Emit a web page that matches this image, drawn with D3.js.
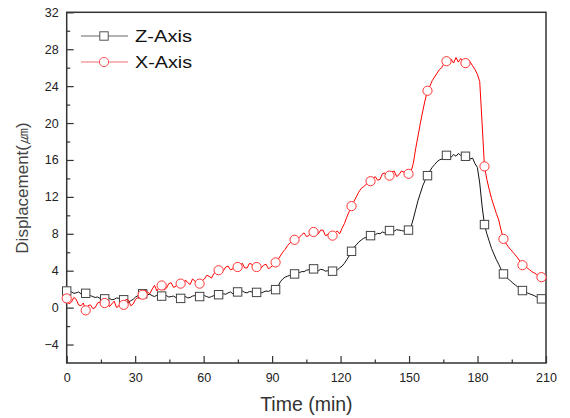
<!DOCTYPE html>
<html lang="en">
<head>
    <meta charset="UTF-8">
    <script src="https://cdn.jsdelivr.net/npm/d3@7"></script>
    <title>Displacement</title>
    <style>
        * {
            margin: 0;
            padding: 0;
            box-sizing: border-box;
        }

        body {
            background: white;
        }

        svg {
            display: block;
            font-family: Arial, "Liberation Sans", sans-serif;
        }
    </style>
</head>
<body>
    <svg width="570" height="418"></svg>
    <script>
        // sample times (min)
        let times = [0, 1.04, 2.08, 3.12, 4.16, 5.2, 6.24, 7.28, 8.32, 9.36, 10.4, 11.44, 12.48, 13.52, 14.56, 15.6,
            16.64, 17.68, 18.72, 19.76, 20.8, 21.84, 22.88, 23.92, 24.96, 26, 27.04, 28.08, 29.12, 30.16, 31.2, 32.24,
            33.28, 34.32, 35.36, 36.4, 37.44, 38.48, 39.52, 40.56, 41.6, 42.64, 43.68, 44.72, 45.76, 46.8, 47.84, 48.88,
            49.92, 50.96, 52, 53.04, 54.08, 55.12, 56.16, 57.2, 58.24, 59.28, 60.32, 61.36, 62.4, 63.44, 64.48, 65.52,
            66.56, 67.6, 68.64, 69.68, 70.72, 71.76, 72.8, 73.84, 74.88, 75.92, 76.96, 78, 79.04, 80.08, 81.12, 82.16,
            83.2, 84.24, 85.28, 86.32, 87.36, 88.4, 89.44, 90.48, 91.52, 92.56, 93.6, 94.64, 95.68, 96.72, 97.76, 98.8,
            99.84, 100.88, 101.92, 102.96, 104, 105.04, 106.08, 107.12, 108.16, 109.2, 110.24, 111.28, 112.32, 113.36, 114.4, 115.44,
            116.48, 117.52, 118.56, 119.6, 120.64, 121.68, 122.72, 123.76, 124.8, 125.84, 126.88, 127.92, 128.96, 130, 131.04, 132.08,
            133.12, 134.16, 135.2, 136.24, 137.28, 138.32, 139.36, 140.4, 141.44, 142.48, 143.52, 144.56, 145.6, 146.64, 147.68, 148.72,
            149.76, 150.8, 151.84, 152.88, 153.92, 154.96, 156, 157.04, 158.08, 159.12, 160.16, 161.2, 162.24, 163.28, 164.32, 165.36,
            166.4, 167.44, 168.48, 169.52, 170.56, 171.6, 172.64, 173.68, 174.72, 175.76, 176.8, 177.84, 178.88, 179.92, 180.96, 182,
            183.04, 184.08, 185.12, 186.16, 187.2, 188.24, 189.28, 190.32, 191.36, 192.4, 193.44, 194.48, 195.52, 196.56, 197.6, 198.64,
            199.68, 200.72, 201.76, 202.8, 203.84, 204.88, 205.92, 206.96, 208]

        let zValues = [1.8, 1.9, 1.7, 1.55, 1.6, 1.7, 1.5, 1.6, 1.55, 1.4, 1.3, 1.2, 1.1, 1.15, 1.0, 0.9,
            0.95, 1.1, 1.0, 0.85, 0.9, 1.05, 1.0, 0.9, 0.85, 0.7, 0.6, 0.75, 0.9, 1.15, 1.3, 1.45,
            1.5, 1.35, 1.4, 1.45, 1.3, 1.2, 1.35, 1.3, 1.25, 1.35, 1.3, 1.15, 1.2, 1.25, 1.1, 1.05,
            1.0, 1.15, 1.2, 1.05, 1.1, 1.25, 1.3, 1.15, 1.2, 1.35, 1.3, 1.2, 1.1, 1.2, 1.3, 1.35,
            1.4, 1.55, 1.5, 1.45, 1.6, 1.7, 1.5, 1.6, 1.7, 1.85, 1.8, 1.65, 1.6, 1.75, 1.7, 1.6,
            1.65, 1.75, 1.6, 1.7, 1.8, 1.75, 1.9, 1.85, 1.95, 2.3, 2.8, 3.1, 3.3, 3.4, 3.5, 3.6,
            3.65, 3.7, 3.8, 3.9, 3.9, 4.05, 4.1, 4.15, 4.2, 4.1, 4.0, 4.15, 4.1, 3.95, 4.0, 4.1,
            3.95, 3.9, 4.1, 4.3, 4.5, 4.8, 5.2, 5.6, 6.1, 6.5, 6.8, 7.1, 7.3, 7.5, 7.6, 7.75,
            7.8, 7.95, 7.9, 8.05, 8.0, 8.2, 8.1, 8.25, 8.35, 8.2, 8.3, 8.45, 8.4, 8.35, 8.3, 8.45,
            8.4, 8.7, 9.6, 10.6, 11.6, 12.4, 13.2, 13.8, 14.3, 14.8, 15.2, 15.5, 15.8, 16.0, 16.1, 16.3,
            16.5, 16.4, 16.3, 16.6, 16.4, 16.7, 16.5, 16.6, 16.4, 16.5, 16.1, 16.2, 15.6, 15.2, 13.5, 11.0,
            9.0, 8.0, 7.2, 6.4, 5.8, 5.2, 4.7, 4.15, 3.65, 3.35, 3.1, 2.9, 2.65, 2.45, 2.25, 2.05,
            1.85, 1.75, 1.6, 1.5, 1.4, 1.3, 1.15, 1.05, 0.95]

        let xValues = [1.0, 0.4, 0.6, 1.1, 0.9, 0.3, 0.2, 0.5, -0.3, 0.2, 0.3, -0.1, 0.0, 0.5, 0.6, 0.1,
            0.5, 0.9, 0.1, 0.4, 0.7, 0.0, 0.2, 0.6, 0.3, 0.9, 0.8, 0.2, 0.4, 0.9, 1.1, 1.0,
            1.4, 1.9, 1.7, 1.5, 2.0, 2.4, 1.8, 2.2, 2.4, 1.9, 2.1, 2.6, 2.7, 2.2, 2.3, 2.8,
            2.6, 2.3, 3.0, 2.7, 2.5, 3.1, 2.9, 2.4, 2.6, 2.9, 3.1, 3.5, 3.4, 3.2, 3.7, 3.9,
            4.05, 3.8, 4.0, 4.4, 4.5, 4.1, 4.2, 4.7, 4.4, 4.6, 4.8, 4.3, 4.3, 4.8, 4.7, 4.2,
            4.4, 4.7, 4.3, 4.6, 4.7, 4.2, 4.4, 4.6, 4.9, 5.2, 5.6, 6.0, 6.3, 6.7, 7.0, 7.2,
            7.35, 7.5, 7.6, 7.9, 8.1, 7.7, 7.8, 8.3, 8.2, 7.9, 8.0, 8.4, 8.4, 7.8, 7.9, 8.2,
            7.8, 8.1, 8.3, 8.0, 8.6, 9.1, 9.8, 10.4, 11.0, 11.5, 12.0, 12.5, 12.9, 13.1, 13.3, 13.6,
            13.7, 14.0, 14.2, 13.8, 13.9, 14.5, 14.6, 14.1, 14.3, 14.7, 14.8, 14.2, 14.4, 14.8, 14.7, 14.3,
            14.5, 14.7, 15.6, 17.2, 18.6, 20.0, 21.3, 22.5, 23.5, 24.0, 24.6, 25.0, 25.4, 25.8, 26.0, 26.5,
            26.7, 26.3, 26.9, 26.5, 27.1, 26.6, 27.0, 26.7, 26.5, 26.9, 26.6, 26.2, 25.8, 25.3, 24.5, 20.0,
            15.3, 13.9, 12.8, 11.8, 11.0, 10.2, 9.5, 8.4, 7.45, 7.0, 6.6, 6.3, 6.0, 5.7, 5.4, 5.0,
            4.6, 4.5, 4.3, 4.1, 3.9, 3.75, 3.6, 3.45, 3.3]

        let seriesNames = ['Z-Axis', 'X-Axis']
        let xTicks = [0, 30, 60, 90, 120, 150, 180, 210]
        let xMinor = [15, 45, 75, 105, 135, 165, 195]
        let yTicks = [-4, 0, 4, 8, 12, 16, 20, 24, 28, 32]
        let yMinor = [-2, 2, 6, 10, 14, 18, 22, 26, 30]
        let markerEvery = 8

        let svg = d3.select('svg')

        let plotLeft = 66.7, plotRight = 546, plotTop = 12.3, plotBottom = 363

        let xScale = d3.scaleLinear()
            .domain([0, 210])
            .range([plotLeft, plotRight])

        let yScale = d3.scaleLinear()
            .domain([-6, 32])
            .range([plotBottom, plotTop])

        // minor ticks (inside)
        svg.append('g')
            .attr('transform', `translate(0, ${plotBottom})`)
            .call(d3.axisBottom(xScale).tickValues(xMinor).tickSize(-3.5).tickFormat(''))
            .call(g => g.select('.domain').remove())

        svg.append('g')
            .attr('transform', `translate(${plotLeft}, 0)`)
            .call(d3.axisLeft(yScale).tickValues(yMinor).tickSize(-3.5).tickFormat(''))
            .call(g => g.select('.domain').remove())

        // major ticks
        let xAxis = svg.append('g')
            .attr('transform', `translate(0, ${plotBottom})`)
            .call(d3.axisBottom(xScale).tickValues(xTicks).tickSize(-7).tickPadding(10))
        xAxis.select('.domain').remove()

        let yAxis = svg.append('g')
            .attr('transform', `translate(${plotLeft}, 0)`)
            .call(d3.axisLeft(yScale).tickValues(yTicks).tickSize(-7).tickPadding(8))
        yAxis.select('.domain').remove()

        svg.selectAll('.tick line').attr('stroke', '#333').attr('stroke-width', 1.2)
        svg.selectAll('.tick text')
            .attr('font-family', 'Arial, "Liberation Sans", sans-serif')
            .attr('font-size', 12.5)
            .attr('fill', '#222')

        // frame
        svg.append('rect')
            .attr('x', plotLeft)
            .attr('y', plotTop)
            .attr('width', plotRight - plotLeft)
            .attr('height', plotBottom - plotTop)
            .attr('fill', 'none')
            .attr('stroke', '#333')
            .attr('stroke-width', 1.5)

        let line = d3.line()
            .x((d, i) => xScale(times[i]))
            .y(d => yScale(d))

        // Z-Axis (black, squares)
        svg.append('path')
            .attr('d', line(zValues))
            .attr('fill', 'none')
            .attr('stroke', '#111')
            .attr('stroke-width', 1)

        svg.selectAll('rect.zmark')
            .data(zValues.filter((d, i) => i % markerEvery == 0))
            .join('rect')
            .attr('class', 'zmark')
            .attr('x', (d, i) => xScale(times[i * markerEvery]) - 4.2)
            .attr('y', d => yScale(d) - 4.2)
            .attr('width', 8.4)
            .attr('height', 8.4)
            .attr('fill', 'white')
            .attr('stroke', '#444')
            .attr('stroke-width', 1)

        // X-Axis (red, circles)
        svg.append('path')
            .attr('d', line(xValues))
            .attr('fill', 'none')
            .attr('stroke', '#f00')
            .attr('stroke-width', 1)

        svg.selectAll('circle.xmark')
            .data(xValues.filter((d, i) => i % markerEvery == 0))
            .join('circle')
            .attr('class', 'xmark')
            .attr('cx', (d, i) => xScale(times[i * markerEvery]))
            .attr('cy', d => yScale(d))
            .attr('r', 4.6)
            .attr('fill', 'white')
            .attr('stroke', '#f33')
            .attr('stroke-width', 1)

        // legend
        let legend = svg.append('g')
        let legendY = [36, 62]
        legend.selectAll('line')
            .data(seriesNames)
            .join('line')
            .attr('x1', 81)
            .attr('x2', 128)
            .attr('y1', (d, i) => legendY[i])
            .attr('y2', (d, i) => legendY[i])
            .attr('stroke', (d, i) => i == 0 ? '#666' : '#f07070')
            .attr('stroke-width', 1.2)

        legend.append('rect')
            .attr('x', 104 - 4.2)
            .attr('y', legendY[0] - 4.2)
            .attr('width', 8.4)
            .attr('height', 8.4)
            .attr('fill', 'white')
            .attr('stroke', '#555')

        legend.append('circle')
            .attr('cx', 104)
            .attr('cy', legendY[1])
            .attr('r', 4.6)
            .attr('fill', 'white')
            .attr('stroke', '#f55')

        legend.selectAll('text')
            .data(seriesNames)
            .join('text')
            .attr('x', 135)
            .attr('y', (d, i) => legendY[i] + 6)
            .attr('font-size', 17)
            .attr('textLength', 57)
            .attr('lengthAdjust', 'spacingAndGlyphs')
            .attr('fill', '#111')
            .text(d => d)

        // axis titles
        svg.append('text')
            .attr('x', (plotLeft + plotRight) / 2)
            .attr('y', 411)
            .attr('text-anchor', 'middle')
            .attr('font-size', 19.5)
            .attr('fill', '#333')
            .text('Time (min)')

        svg.append('text')
            .attr('transform', `translate(22, ${188}) rotate(-90)`)
            .attr('text-anchor', 'middle')
            .attr('dy', '0.35em')
            .attr('font-size', 17)
            .attr('fill', '#444')
            .text('Displacement(㎛)')
    </script>
</body>
</html>
